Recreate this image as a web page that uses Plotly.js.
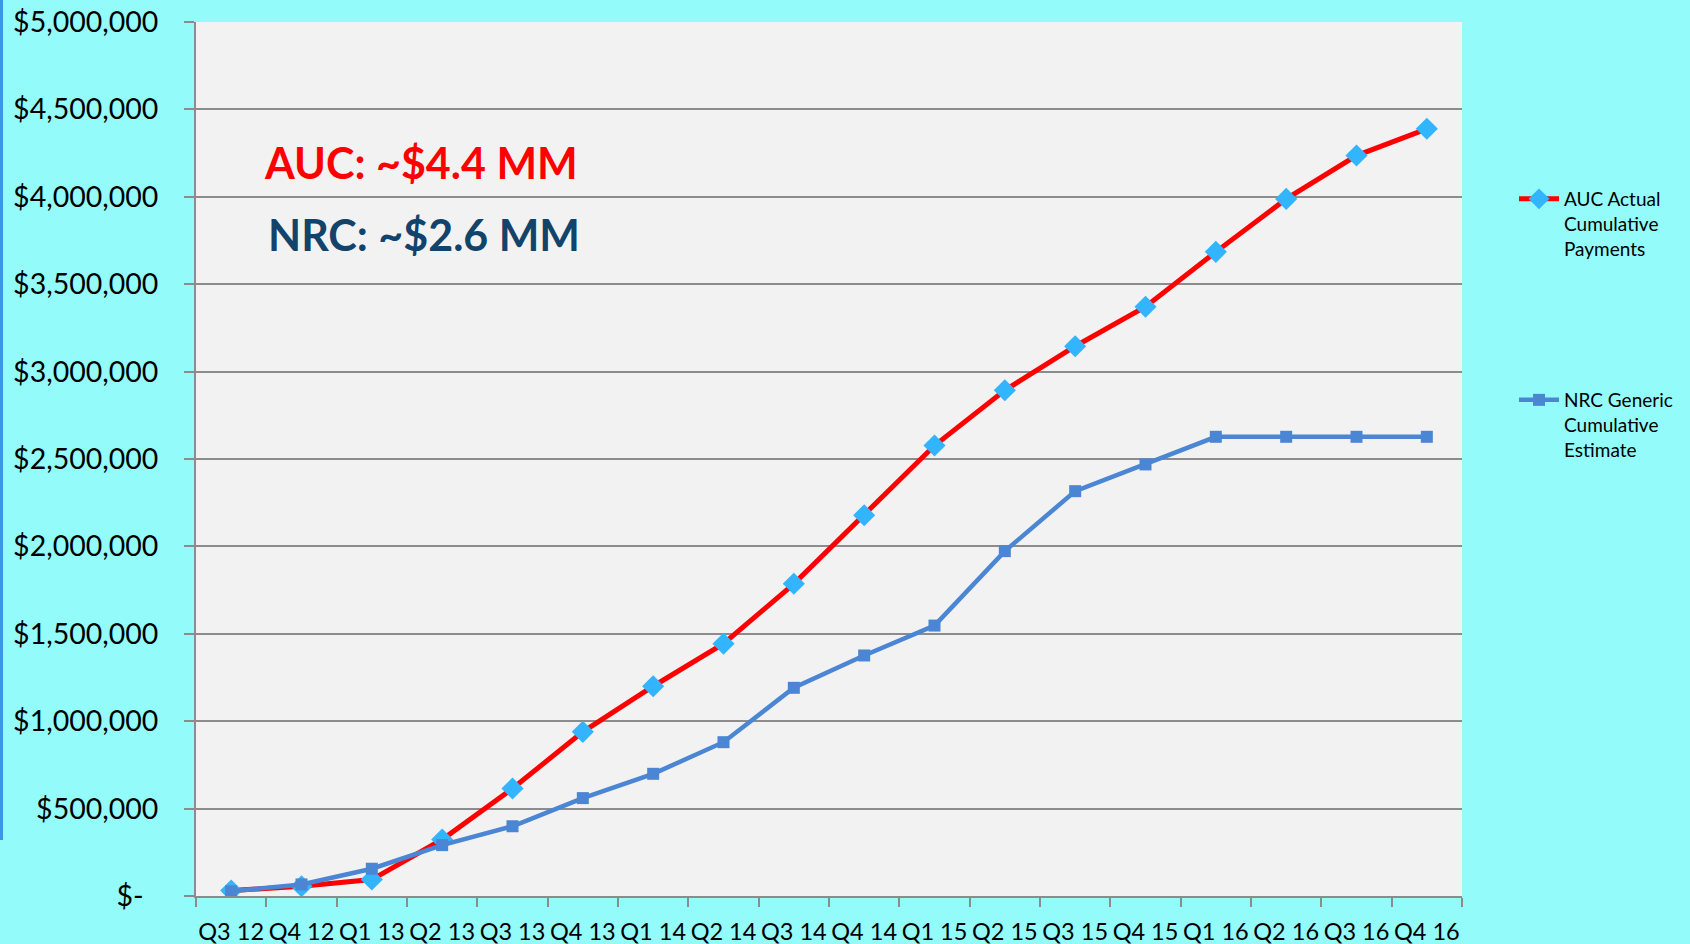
<!DOCTYPE html>
<html>
<head>
<meta charset="utf-8">
<script src="https://cdn.plot.ly/plotly-3.0.1.min.js"></script>
<style>
html,body{margin:0;padding:0;background:#93FCFA;}
#chart{width:1690px;height:944px;}
</style>
</head>
<body>
<div id="chart"></div>
<script>
const quarters = ["Q3 12","Q4 12","Q1 13","Q2 13","Q3 13","Q4 13","Q1 14","Q2 14","Q3 14","Q4 14","Q1 15","Q2 15","Q3 15","Q4 15","Q1 16","Q2 16","Q3 16","Q4 16"];
const aucActual = [31000,56000,94000,323000,615000,939000,1200000,1443000,1786000,2178000,2577000,2893000,3145000,3371000,3685000,3988000,4236000,4389000];
const nrcEstimate = [27000,66000,156000,291000,399000,560000,699000,880000,1191000,1376000,1547000,1973000,2316000,2469000,2627000,2627000,2627000,2627000];
const yTickVals = [0,500000,1000000,1500000,2000000,2500000,3000000,3500000,4000000,4500000,5000000];
const yTickText = ["$-\u00a0\u00a0","$500,000","$1,000,000","$1,500,000","$2,000,000","$2,500,000","$3,000,000","$3,500,000","$4,000,000","$4,500,000","$5,000,000"];
const seriesNames = ["AUC Actual<br>Cumulative<br>Payments","NRC Generic<br>Cumulative<br>Estimate"];
const callouts = ["AUC: ~$4.4 MM","NRC: ~$2.6 MM"];

const font = "Lato, 'Open Sans', sans-serif";

const traces = [
  {
    x: quarters, y: aucActual, name: seriesNames[0], type: "scatter", mode: "lines+markers",
    line: {color: "#FF0000", width: 5},
    marker: {symbol: "diamond", size: 17, color: "#33B4FF"},
    legend: "legend"
  },
  {
    x: quarters, y: nrcEstimate, name: seriesNames[1], type: "scatter", mode: "lines+markers",
    line: {color: "#4A86D4", width: 4.5},
    marker: {symbol: "square", size: 12, color: "#4A86D4"},
    legend: "legend2"
  }
];

const legendCommon = {
  xref: "container", yref: "container", xanchor: "left", yanchor: "top",
  bgcolor: "rgba(0,0,0,0)", font: {family: font, size: 19, color: "#000"},
  valign: "top", itemwidth: 40, tracegroupgap: 0
};

const layout = {
  width: 1690, height: 944,
  paper_bgcolor: "#93FCFA", plot_bgcolor: "#F2F2F2",
  margin: {l: 196, r: 228, t: 22, b: 48, pad: 0},
  font: {family: font, color: "#000"},
  showlegend: true,
  legend: Object.assign({}, legendCommon, {x: 1514/1690, y: 1 - 180/944}),
  legend2: Object.assign({}, legendCommon, {x: 1514/1690, y: 1 - 381/944}),
  xaxis: {
    type: "category", range: [-0.5, 17.5],
    showline: true, linecolor: "#8C8C8C", linewidth: 2,
    ticks: "outside", tickson: "boundaries", ticklen: 9, tickwidth: 2, tickcolor: "#8C8C8C",
    showgrid: false, zeroline: false, tickangle: 0, automargin: false,
    ticklabelstandoff: 14,
    tickfont: {family: font, size: 23.5, color: "#000"}
  },
  yaxis: {
    range: [0, 5000000], tickmode: "array", tickvals: yTickVals, ticktext: yTickText,
    showline: true, linecolor: "#8C8C8C", linewidth: 2,
    ticks: "outside", ticklen: 10, tickwidth: 2, tickcolor: "#8C8C8C",
    showgrid: true, gridcolor: "#8C8C8C", gridwidth: 2, zeroline: false,
    ticklabelstandoff: 20, automargin: false,
    tickfont: {family: font, size: 28.5, color: "#000"}
  },
  annotations: [
    {text: "<b>" + callouts[0] + "</b>", xref: "paper", yref: "paper", x: (262-196)/1266, y: 1 - (162-22)/874,
     xanchor: "left", yanchor: "middle", showarrow: false, font: {family: font, size: 43, color: "#FF0000"}},
    {text: "<b>" + callouts[1] + "</b>", xref: "paper", yref: "paper", x: (266-196)/1266, y: 1 - (235-22)/874,
     xanchor: "left", yanchor: "middle", showarrow: false, font: {family: font, size: 43, color: "#12436B"}}
  ],
  shapes: [
    {type: "rect", xref: "paper", yref: "paper", x0: -196/1266, x1: -193/1266, y0: 1 - (840-22)/874, y1: 1 + 22/874,
     fillcolor: "#3A98E2", line: {width: 0}, layer: "below"}
  ]
};

Plotly.newPlot("chart", traces, layout, {displayModeBar: false, staticPlot: true});
</script>
</body>
</html>
